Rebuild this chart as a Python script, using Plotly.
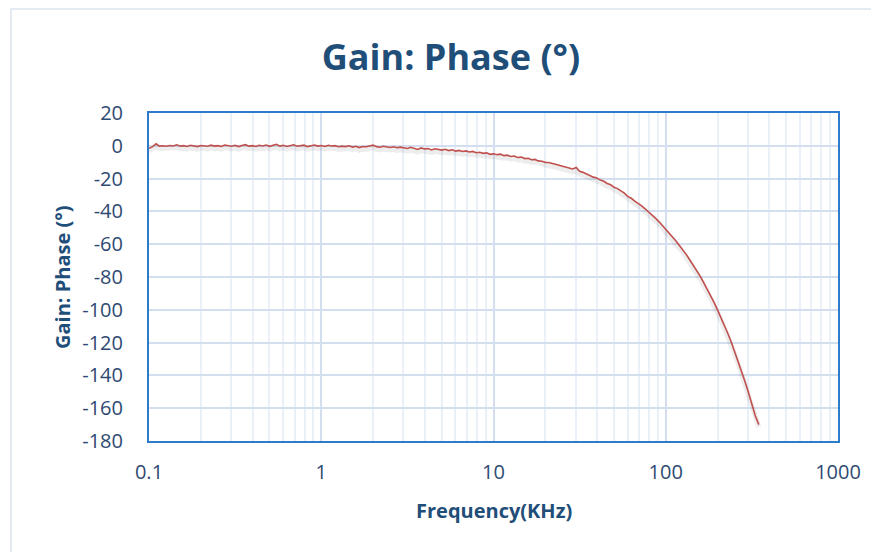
import plotly.graph_objects as go

freq_khz = [0.100, 0.105, 0.110, 0.115, 0.120, 0.126, 0.132, 0.138, 0.145, 0.152,
            0.159, 0.166, 0.174, 0.182, 0.191, 0.200, 0.209, 0.219, 0.229, 0.240,
            0.251, 0.263, 0.275, 0.288, 0.302, 0.316, 0.331, 0.347, 0.363, 0.380,
            0.398, 0.417, 0.437, 0.457, 0.479, 0.501, 0.525, 0.550, 0.575, 0.603,
            0.631, 0.661, 0.692, 0.724, 0.759, 0.794, 0.832, 0.871, 0.912, 0.955,
            1.00, 1.05, 1.10, 1.15, 1.20, 1.26, 1.32, 1.38, 1.45, 1.52,
            1.59, 1.66, 1.74, 1.82, 1.91, 2.00, 2.09, 2.19, 2.29, 2.40,
            2.51, 2.63, 2.75, 2.88, 3.02, 3.16, 3.31, 3.47, 3.63, 3.80,
            3.98, 4.17, 4.37, 4.57, 4.79, 5.01, 5.25, 5.50, 5.75, 6.03,
            6.31, 6.61, 6.92, 7.24, 7.59, 7.94, 8.32, 8.71, 9.12, 9.55,
            10.0, 10.5, 11.0, 11.5, 12.0, 12.6, 13.2, 13.8, 14.5, 15.2,
            15.9, 16.6, 17.4, 18.2, 19.1, 20.0, 20.9, 21.9, 22.9, 24.0,
            25.1, 26.3, 27.5, 28.8, 30.2, 31.6, 33.1, 34.7, 36.3, 38.0,
            39.8, 41.7, 43.7, 45.7, 47.9, 50.1, 52.5, 55.0, 57.5, 60.3,
            63.1, 66.1, 69.2, 72.4, 75.9, 79.4, 83.2, 87.1, 91.2, 95.5,
            100, 105, 110, 115, 120, 126, 132, 138, 145, 152,
            159, 166, 174, 182, 191, 200, 209, 219, 229, 240,
            251, 263, 275, 288, 302, 316, 331, 347]

phase_deg = [-1.5, -0.5, 1.2, -0.2, 0.0, -0.3, 0.2, -0.1, 0.6, -0.2,
             0.1, -0.4, 0.3, -0.1, -0.5, 0.2, 0.0, -0.3, 0.4, -0.2,
             0.1, -0.4, 0.5, 0.0, -0.3, 0.3, -0.5, 0.2, 0.7, -0.2,
             0.1, -0.4, 0.3, -0.1, 0.5, -0.3, 0.2, 0.9, -0.2, 0.3,
             -0.4, 0.1, 0.6, -0.3, 0.2, 0.4, -0.5, 0.1, 0.5, -0.2,
             0.2, -0.4, 0.3, -0.1, 0.1, -0.6, -0.2, -0.5, 0.0, -0.8,
             -0.3, -1.1, -0.4, -0.6, -0.2, 0.4, -0.5, -0.9, -0.3, -0.7,
             -1.0, -0.6, -1.2, -0.8, -1.1, -1.6, -0.9, -1.4, -2.2, -1.3,
             -1.9, -1.7, -2.5, -1.8, -2.3, -2.6, -2.1, -2.9, -2.4, -3.2,
             -2.8, -3.5, -3.1, -3.8, -3.4, -4.2, -3.9, -4.6, -4.3, -5.2,
             -4.9, -5.4, -5.1, -6.0, -5.7, -6.5, -6.2, -7.1, -6.9, -7.8,
             -7.6, -8.5, -8.3, -9.2, -9.4, -10.1, -10.2, -11.0, -11.3, -11.9,
             -12.4, -12.8, -13.7, -14.1, -13.2, -15.6, -16.2, -17.3, -18.0, -19.1,
             -19.6, -20.9, -21.6, -23.0, -23.8, -25.3, -26.1, -27.6, -28.9, -31.0,
             -32.0, -33.8, -35.0, -36.6, -38.4, -40.1, -42.0, -44.1, -46.2, -48.6,
             -50.9, -53.1, -55.6, -58.2, -60.8, -63.4, -66.5, -69.6, -73.0, -76.4,
             -79.8, -83.4, -87.3, -91.2, -95.6, -100.2, -104.6, -109.4, -114.3, -119.6,
             -125.2, -131.0, -137.1, -143.6, -150.4, -157.3, -164.6, -170.0]

x_tick_vals = [0.1, 1, 10, 100, 1000]
x_tick_text = ["0.1", "1", "10", "100", "1000"]
y_tick_vals = [20, 0, -20, -40, -60, -80, -100, -120, -140, -160, -180]
y_tick_text = ["20", "0", "-20", "-40", "-60", "-80", "-100", "-120", "-140", "-160", "-180"]

title_text = "Gain: Phase (°)"
x_title = "Frequency(KHz)"
y_title = "Gain: Phase (°)"

# the page body adds an 8px offset, so work in reference pixels minus 8
OFF = 8
W, H = 879 - OFF, 552 - OFF
L, R, T, B = 149 - OFF, 879 - 838, 113 - OFF, 552 - 441
pw, ph = W - L - R, H - T - B

TEXT = "#2E4A72"
TITLE = "#1F4E79"
FONT = "Open Sans"

fig = go.Figure()
# soft drop shadow under the curve
fig.add_trace(go.Scatter(x=freq_khz, y=[v - 1.6 for v in phase_deg], mode="lines",
                         line=dict(color="rgba(60,60,60,0.09)", width=5),
                         hoverinfo="skip", showlegend=False))
fig.add_trace(go.Scatter(x=freq_khz, y=phase_deg, mode="lines",
                         line=dict(color="#C0504D", width=1.6),
                         name=y_title, showlegend=False))

fig.update_layout(
    width=W, height=H,
    margin=dict(l=L, r=R, t=T, b=B),
    paper_bgcolor="white", plot_bgcolor="white",
    font=dict(family=FONT, color=TEXT),
    title=dict(text="<b>" + title_text + "</b>", x=(451 - OFF) / W, xref="container",
               y=1 - (57 - OFF) / H, yref="container", xanchor="center", yanchor="middle",
               font=dict(family=FONT, size=36, color=TITLE)),
)

fig.update_xaxes(
    type="log", range=[-1, 3],
    tickvals=x_tick_vals, ticktext=x_tick_text,
    tickfont=dict(size=20, color=TEXT), ticks="", ticklabelstandoff=12,
    showgrid=True, gridcolor="#D3DFEE", gridwidth=1.5,
    minor=dict(dtick="D1", showgrid=True, gridcolor="#EAF0F8", gridwidth=1.5, ticks=""),
    showline=True, linecolor="#2E7BC9", linewidth=2, mirror=True,
    zeroline=False,
)
fig.update_yaxes(
    range=[-180, 20], tickvals=y_tick_vals, ticktext=y_tick_text,
    tickfont=dict(size=20, color=TEXT), ticks="", ticklabelstandoff=20,
    showgrid=True, gridcolor="#D3DFEE", gridwidth=2,
    showline=True, linecolor="#2E7BC9", linewidth=2, mirror=True,
    zeroline=False,
)

fig.add_annotation(text="<b>" + x_title + "</b>", xref="paper", yref="paper",
                   x=0.5, y=(T + ph - (510 - OFF)) / ph, showarrow=False,
                   xanchor="center", yanchor="middle",
                   font=dict(family=FONT, size=20, color=TITLE))
fig.add_annotation(text="<b>" + y_title + "</b>", xref="paper", yref="paper",
                   x=(62 - OFF - L) / pw, y=0.5, textangle=-90, showarrow=False,
                   xanchor="center", yanchor="middle",
                   font=dict(family=FONT, size=20, color=TITLE))

# outer chart-area frame (only top and left edges fall inside the picture)
fig.add_shape(type="rect", xref="paper", yref="paper",
              x0=(11 - OFF - L) / pw, x1=(W + 20 - L) / pw,
              y0=(T + ph - (H + 20)) / ph, y1=(T + ph - 1) / ph,
              line=dict(color="#DCE5F0", width=1.5), layer="below")

fig.write_html("out.html")
